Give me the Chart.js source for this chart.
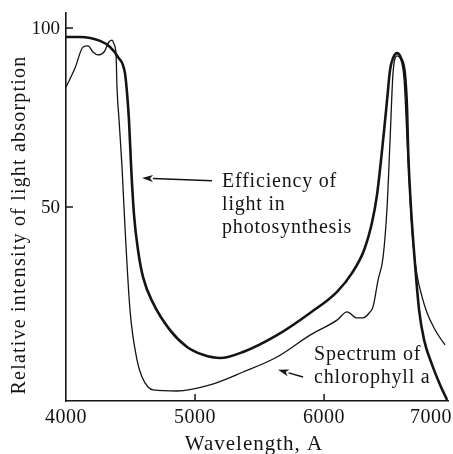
<!DOCTYPE html>
<html><head><meta charset="utf-8">
<script src="https://cdn.jsdelivr.net/npm/chart.js@4/dist/chart.umd.min.js"></script>
<style>html,body{margin:0;padding:0;background:#fff;}canvas{display:block}</style>
</head><body>
<canvas id="c" width="453" height="454"></canvas>
<script>
// Efficiency of light in photosynthesis (thick curve)
const effWavelength = [4000,4108,4264,4341,4403,4457,4473,4488,4504,4527,4558,4597,4674,4806,4938,5062,5194,5372,5635,5891,6100,6217,6310,6372,6410,6441,6465,6488,6511,6534,6565,6596,6627,6643,6651,6674,6705,6736,6775,6837,6899,6953];
const effValue      = [97.5,97.5,96.4,94.7,91.9,87.4,81.8,74.3,61.7,47.8,38.0,30.4,23.2,15.6,10.9,8.7,7.8,9.5,14.2,20.4,26.3,31.6,38.0,45.8,53.4,63.1,71.5,79.9,88.3,91.6,93.0,91.6,86.9,77.1,65.9,49.2,33.8,21.2,12.8,5.9,0.3,-3.9];
// Absorption spectrum of chlorophyll a (thin curve)
const chlWavelength = [4000,4070,4132,4171,4209,4248,4295,4333,4357,4372,4388,4395,4411,4434,4457,4496,4550,4589,4636,4674,4860,5116,5372,5635,5891,6100,6178,6255,6302,6356,6379,6418,6457,6488,6511,6534,6565,6589,6620,6643,6667,6690,6720,6759,6798,6852,6899,6937];
const chlValue      = [83.5,88.8,94.7,95.0,93.3,92.5,93.3,96.1,96.6,95.5,92.5,83.5,74.3,61.2,44.4,21.2,7.3,2.5,-0.3,-1.1,-1.4,0.3,3.9,8.1,14.2,18.4,20.7,19.0,19.0,20.7,22.1,29.6,36.0,50.0,68.7,87.4,92.2,91.6,85.5,68.7,52.0,39.4,31.0,24.9,20.4,16.2,13.4,11.5];

const xTickValues = [4000,5000,6000,7000];
const xTickLabels = ['4000','5000','6000','7000'];
const yTickValues = [50,100];
const yTickLabels = ['50','100'];
const xTitle = 'Wavelength, A';
const yTitle = 'Relative intensity of light absorption';
const effLabel = ['Efficiency of','light in','photosynthesis'];
const chlLabel = ['Spectrum of','chlorophyll a'];

// annotation anchors, in data units
const effNote = {x:5209, y:55.6, from:[5131,57.3], to:[4589,58.1], lineGap:23};
const chlNote = {x:5922, y:7.3, from:[5837,2.5], to:[5643,4.5], lineGap:23};

const SERIF = '"Liberation Serif", "Times New Roman", serif';
const INK = '#141414';

function toPts(xs, ys){ return xs.map((v,i)=>({x:v, y:ys[i]})); }

const decor = {
  id:'decor',
  afterDraw(chart){
    const {ctx, chartArea:a} = chart;
    const x = chart.scales.x, y = chart.scales.y;
    ctx.save();
    ctx.strokeStyle = INK; ctx.fillStyle = INK; ctx.lineWidth = 1.5;
    const seg = (x1,y1,x2,y2)=>{ctx.beginPath();ctx.moveTo(x1,y1);ctx.lineTo(x2,y2);ctx.stroke();};
    // inward tick marks
    xTickValues.forEach(v=>{ if(v>x.min && v<x.max){ const p=x.getPixelForValue(v); seg(p,a.bottom,p,a.bottom-7);} });
    yTickValues.forEach(v=>{ if(v>y.min && v<y.max){ const p=y.getPixelForValue(v); seg(a.left,p,a.left+7,p);} });
    // tick labels
    ctx.font = '20px ' + SERIF;
    ctx.letterSpacing = '0.5px';
    ctx.textBaseline = 'alphabetic'; ctx.textAlign = 'center';
    xTickValues.forEach((v,i)=>{
      const w = ctx.measureText(xTickLabels[i]).width;
      let p = x.getPixelForValue(v);
      p = Math.min(p, chart.width - 1 - w/2);
      ctx.fillText(xTickLabels[i], p, a.bottom + 22);
    });
    ctx.font = '19px ' + SERIF;
    ctx.letterSpacing = '0px';
    ctx.textAlign = 'right'; ctx.textBaseline = 'middle';
    yTickValues.forEach((v,i)=>{ ctx.fillText(yTickLabels[i], a.left - 6, y.getPixelForValue(v) + 1); });
    // axis titles
    ctx.font = '21px ' + SERIF;
    ctx.letterSpacing = '1px';
    ctx.textAlign = 'center'; ctx.textBaseline = 'alphabetic';
    ctx.fillText(xTitle, 254, a.bottom + 49);
    ctx.save();
    ctx.translate(25, 225); ctx.rotate(-Math.PI/2);
    ctx.font = '20px ' + SERIF;
    ctx.letterSpacing = '1.2px';
    ctx.fillText(yTitle, 0, 0);
    ctx.restore();
    // annotations
    ctx.font = '20px ' + SERIF;
    ctx.letterSpacing = '0.8px';
    ctx.textAlign = 'left'; ctx.textBaseline = 'alphabetic';
    [[effNote, effLabel],[chlNote, chlLabel]].forEach(([n, lines])=>{
      const tx = x.getPixelForValue(n.x), ty = y.getPixelForValue(n.y);
      lines.forEach((t,i)=>ctx.fillText(t, tx, ty + i*n.lineGap));
      const x1=x.getPixelForValue(n.from[0]), y1=y.getPixelForValue(n.from[1]);
      const x2=x.getPixelForValue(n.to[0]), y2=y.getPixelForValue(n.to[1]);
      ctx.lineWidth = 1.5;
      const ang = Math.atan2(y2-y1, x2-x1);
      const hl = 11, hw = 3.5;
      const bx = x2 - hl*Math.cos(ang), by = y2 - hl*Math.sin(ang);
      seg(x1,y1,bx,by);
      ctx.beginPath();
      ctx.moveTo(x2,y2);
      ctx.lineTo(bx + hw*Math.sin(ang), by - hw*Math.cos(ang));
      ctx.lineTo(bx + 3*Math.cos(ang), by + 3*Math.sin(ang));
      ctx.lineTo(bx - hw*Math.sin(ang), by + hw*Math.cos(ang));
      ctx.closePath(); ctx.fill();
    });
    ctx.restore();
  }
};

const axisCommon = {
  ticks:{display:false},
  grid:{display:true, drawOnChartArea:false, drawTicks:false},
  border:{display:true, color:INK, width:1.6}
};

new Chart(document.getElementById('c'), {
  type:'line',
  data:{ datasets:[
    {label:'Efficiency of light in photosynthesis', data:toPts(effWavelength, effValue),
     borderColor:INK, borderWidth:2.6, pointRadius:0, cubicInterpolationMode:'monotone', fill:false},
    {label:'Spectrum of chlorophyll a', data:toPts(chlWavelength, chlValue),
     borderColor:INK, borderWidth:1.3, pointRadius:0, cubicInterpolationMode:'monotone', fill:false}
  ]},
  options:{
    responsive:false, animation:false, devicePixelRatio:1,
    layout:{padding:{left:66, top:13, right:5, bottom:53}},
    scales:{
      x:Object.assign({type:'linear', min:4000, max:6960}, axisCommon),
      y:Object.assign({type:'linear', min:-4.2, max:104.2}, axisCommon)
    },
    plugins:{legend:{display:false}, tooltip:{enabled:false}},
    clip:false
  },
  plugins:[decor]
});
</script>
</body></html>
